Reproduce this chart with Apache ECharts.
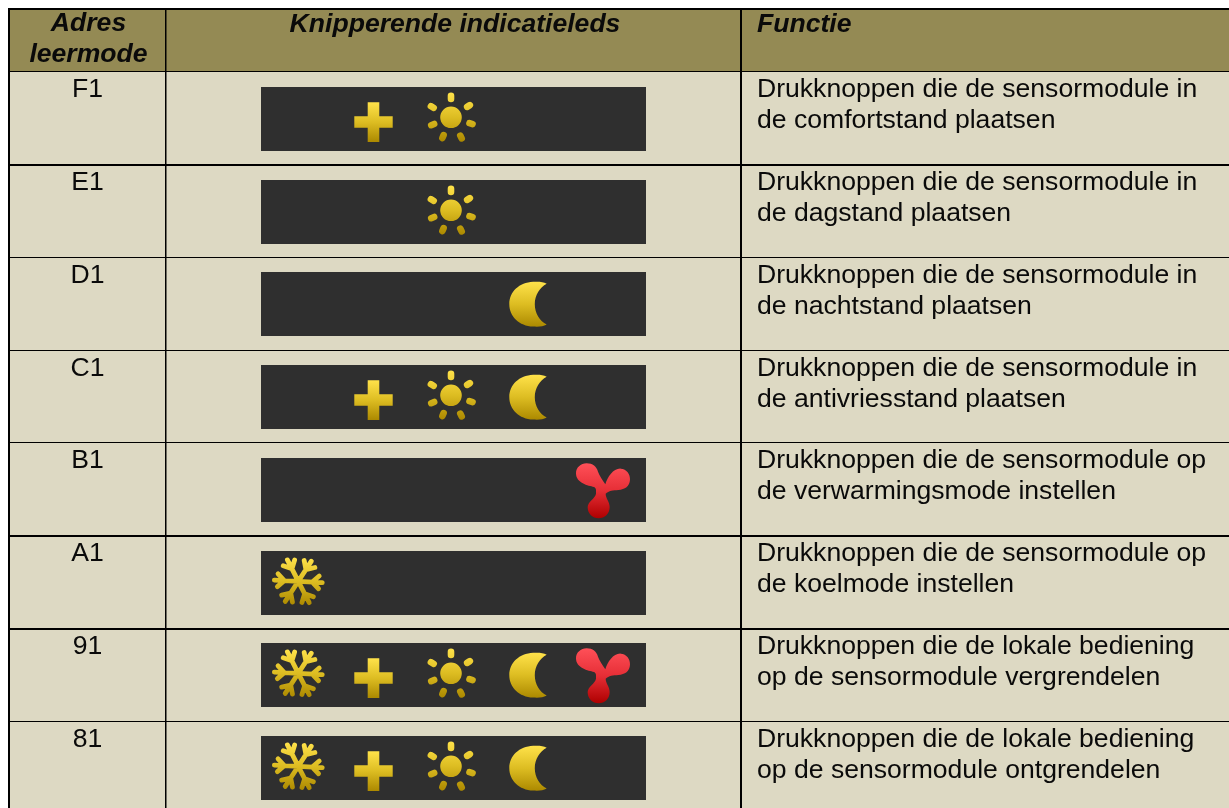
<!DOCTYPE html>
<html><head><meta charset="utf-8">
<style>html,body{margin:0;padding:0;background:#fff}#c{width:1229px;height:808px}</style>
<script src="https://cdn.jsdelivr.net/npm/echarts@6/dist/echarts.min.js"></script>
</head><body><div id="c"></div>
<script>
// ---- data ----
const headerLabels = ['Adres\nleermode', 'Knipperende indicatieleds', 'Functie'];
const addresses = ['F1', 'E1', 'D1', 'C1', 'B1', 'A1', '91', '81'];
const functions = [
  'Drukknoppen die de sensormodule in\nde comfortstand plaatsen',
  'Drukknoppen die de sensormodule in\nde dagstand plaatsen',
  'Drukknoppen die de sensormodule in\nde nachtstand plaatsen',
  'Drukknoppen die de sensormodule in\nde antivriesstand plaatsen',
  'Drukknoppen die de sensormodule op\nde verwarmingsmode instellen',
  'Drukknoppen die de sensormodule op\nde koelmode instellen',
  'Drukknoppen die de lokale bediening\nop de sensormodule vergrendelen',
  'Drukknoppen die de lokale bediening\nop de sensormodule ontgrendelen'
];
const ledSnow = [0, 0, 0, 0, 0, 1, 1, 1];
const ledPlus = [1, 0, 0, 1, 0, 0, 1, 1];
const ledSun  = [1, 1, 0, 1, 0, 0, 1, 1];
const ledMoon = [0, 0, 1, 1, 0, 0, 1, 1];
const ledFan  = [0, 0, 0, 0, 1, 0, 1, 0];

// ---- layout & style ----
const W = 1229, HEADER_BOTTOM = 71, ROW_H = 92.75;
const COL = { left: 8, a: 165, b: 740, aCenter: 87.5, bCenter: 455, textX: 757 };
const BAR = { x: 261, w: 385, h: 64, offset: 16 };
const HEADER_FILL = '#948A54', BODY_FILL = '#DDD9C3', BAR_FILL = '#2F2F2F', INK = '#0a0a0a';
const ruleWidths = [2, 1, 1, 1, 2, 2, 1];
const FONT = 'Liberation Sans, Arial, sans-serif';
const BODY_SIZE = 25, BODY_SCALE = 1.063, HEAD_SIZE = 25, HEAD_SCALE = 1.063;
const grad = stops => new echarts.graphic.LinearGradient(0, 0, 0, 1, stops.map((c, i) => ({ offset: i / (stops.length - 1), color: c })));
const gold = () => grad(['#FFE24A', '#DDBD22', '#AC8900']);
const red = () => grad(['#FF5058', '#E62E36', '#AE0000']);

function rowTop(api, i) {
  const c = api.coord([0, i])[1], h = api.size([0, 1])[1];
  return c - h / 2;
}
function barOrigin(api, i) {
  return [BAR.x, Math.floor(rowTop(api, i) + BAR.offset + 0.4)];
}
function txt(x, y, s, size, scale, align, extra) {
  return { type: 'text', x: x, y: y, scaleX: scale, silent: true,
    style: Object.assign({ text: s, fontFamily: FONT, fontSize: size, fill: INK, align: align, verticalAlign: 'middle' }, extra || {}) };
}
function rect(x, y, w, h, fill) {
  return { type: 'rect', shape: { x: x, y: y, width: w, height: h }, style: { fill: fill }, silent: true };
}
function iconEl(o, d, box, style) {
  return { type: 'path', silent: true,
    shape: { pathData: d, x: o[0] + box[0], y: o[1] + box[1], width: box[2], height: box[3], layout: 'cover' },
    style: style };
}

// ---- icon geometry ----
const PLUS_D = 'M13.4 0 H25 V14 H38.4 V25.4 H25 V39.7 H13.4 V25.4 H0 V14 H13.4 Z';
const PLUS_BOX = [93.3, 15.3, 38.4, 39.7];
const MOON_D = 'M141 44 C130 38 118 37 100 38 C58 40 28 68 28 105 C28 142 58 170 100 172 C118 173 130 172 141 166 C120 155 105 132 105 105 C105 78 120 55 141 44 Z';
const MOON_BOX = [248.3, 9.7, 37.4, 45];
const FAN_D = 'M1036 118 C1043 96 1060 70 1082 71 C1100 72 1111 88 1110 104 C1109 124 1095 133 1075 135 C1060 136 1046 137 1037 146 C1037 160 1049 170 1049 187 C1049 206 1034 220 1016 220 C998 220 983 206 983 187 C983 170 1006 160 1008 146 C1008 138 1010 130 1002 126 C985 122 948 115 948 85 C948 68 962 55 980 55 C998 55 1010 65 1014 80 C1018 92 1028 106 1036 118 Z';
const FAN_BOX = [315, 5.3, 54, 55];

const SUN_RAY_CENTERS = [[0, -20], [17.5, -11.3], [20, 6.3], [10, 19.7], [-8, 19.3], [-18.3, 7.3], [-18.7, -10.3]];
const SUN_R = 10.8, RAY_R = 3.3, RAY_HALF = 1.6;
const SUN_CENTER = [190, 30.3];
function capsule(x1, y1, x2, y2, r) {
  const a = Math.atan2(y2 - y1, x2 - x1), nx = -Math.sin(a) * r, ny = Math.cos(a) * r;
  return `M${x1 + nx} ${y1 + ny} A${r} ${r} 0 0 1 ${x1 - nx} ${y1 - ny} L${x2 - nx} ${y2 - ny} A${r} ${r} 0 0 1 ${x2 + nx} ${y2 + ny} Z `;
}
const SUN_RAYS = SUN_RAY_CENTERS.map(c => {
  const l = Math.hypot(c[0], c[1]), ux = c[0] / l, uy = c[1] / l;
  return [c[0] - ux * RAY_HALF, c[1] - uy * RAY_HALF, c[0] + ux * RAY_HALF, c[1] + uy * RAY_HALF];
});
const sunD = SUN_RAYS.map(r => capsule(r[0], r[1], r[2], r[3], RAY_R)).join('') +
  `M${SUN_R} 0 A${SUN_R} ${SUN_R} 0 1 1 ${-SUN_R} 0 A${SUN_R} ${SUN_R} 0 1 1 ${SUN_R} 0 Z`;
const sunBox = (() => {
  const xs = SUN_RAYS.flatMap(r => [r[0], r[2]]), ys = SUN_RAYS.flatMap(r => [r[1], r[3]]);
  const x0 = Math.min(...xs) - RAY_R, x1 = Math.max(...xs) + RAY_R, y0 = Math.min(...ys) - RAY_R, y1 = Math.max(...ys) + RAY_R;
  return [SUN_CENTER[0] + x0, SUN_CENTER[1] + y0, x1 - x0, y1 - y0];
})();

const SNOW_CENTER = [37.3, 30.3], SNOW_R = 24, SNOW_TILT = 3;
const snow = (() => {
  let d = '', pts = [];
  const seg = (x1, y1, x2, y2) => { d += `M${x1} ${y1} L${x2} ${y2} `; pts.push([x1, y1], [x2, y2]); };
  for (let k = 0; k < 6; k++) {
    const a = (k * 60 + SNOW_TILT) * Math.PI / 180;
    seg(0, 0, SNOW_R * Math.cos(a), SNOW_R * Math.sin(a));
    const bx = 14 * Math.cos(a), by = 14 * Math.sin(a);
    [-44, 44].forEach(o => {
      const b = a + o * Math.PI / 180;
      seg(bx, by, bx + 9.2 * Math.cos(b), by + 9.2 * Math.sin(b));
    });
  }
  const xs = pts.map(p => p[0]), ys = pts.map(p => p[1]);
  const x0 = Math.min(...xs), y0 = Math.min(...ys);
  return { d: d, box: [SNOW_CENTER[0] + x0, SNOW_CENTER[1] + y0, Math.max(...xs) - x0, Math.max(...ys) - y0] };
})();

// ---- renderers ----
function renderRow(params, api) {
  const i = api.value(1), top = rowTop(api, i), lineTop = i === 0 ? null : Math.floor(top + 0.75);
  const o = barOrigin(api, i);
  const lines = functions[i].split('\n');
  const kids = [
    rect(COL.left, top, W - COL.left, api.size([0, 1])[1] + 1, BODY_FILL),
    rect(o[0], o[1], BAR.w, BAR.h, BAR_FILL),
    txt(COL.aCenter, top + 19.6, addresses[i], BODY_SIZE, BODY_SCALE, 'center'),
    txt(COL.textX, top + 19.6, lines[0], BODY_SIZE, BODY_SCALE, 'left'),
    txt(COL.textX, top + 50.6, lines[1], BODY_SIZE, BODY_SCALE, 'left')
  ];
  if (lineTop !== null) kids.push(rect(COL.left, lineTop, W - COL.left, ruleWidths[i - 1], '#000'));
  return { type: 'group', children: kids };
}
function renderHeader(params, api) {
  const i = api.value(1);
  const kids = [];
  const style = { fontWeight: 'bold', fontStyle: 'italic' };
  if (i === 0) {
    kids.push(rect(COL.left, 8, W - COL.left, HEADER_BOTTOM - 8, HEADER_FILL));
    kids.push(rect(COL.left, 8, W - COL.left, 2, '#000'));
    kids.push(rect(COL.left, HEADER_BOTTOM, W - COL.left, 1, '#000'));
    const l = headerLabels[0].split('\n');
    kids.push(txt(COL.aCenter + 1, 24, l[0], HEAD_SIZE, HEAD_SCALE, 'center', style));
    kids.push(txt(COL.aCenter + 1, 55, l[1], HEAD_SIZE, HEAD_SCALE, 'center', style));
  } else if (i === 1) {
    kids.push(txt(COL.bCenter, 25, headerLabels[1], HEAD_SIZE, HEAD_SCALE, 'center', style));
  } else {
    kids.push(txt(COL.textX, 25, headerLabels[2], HEAD_SIZE, HEAD_SCALE, 'left', style));
  }
  return { type: 'group', children: kids };
}
function renderGrid() {
  return { type: 'group', children: [
    rect(COL.left, 8, 2, 808 - 8, '#000'),
    rect(COL.a, 8, 1.5, 808 - 8, '#000'),
    rect(COL.b, 8, 2, 808 - 8, '#000')
  ] };
}
const renderers = {
  snow: (p, api) => iconEl(barOrigin(api, api.value(1)), snow.d, snow.box,
    { fill: 'none', stroke: gold(), lineWidth: 4.8, lineCap: 'round', lineJoin: 'round' }),
  plus: (p, api) => iconEl(barOrigin(api, api.value(1)), PLUS_D, PLUS_BOX, { fill: gold() }),
  sun:  (p, api) => iconEl(barOrigin(api, api.value(1)), sunD, sunBox, { fill: gold() }),
  moon: (p, api) => iconEl(barOrigin(api, api.value(1)), MOON_D, MOON_BOX, { fill: gold() }),
  fan:  (p, api) => iconEl(barOrigin(api, api.value(1)), FAN_D, FAN_BOX, { fill: red() })
};
const ledSeries = (name, flags) => ({
  type: 'custom', name: name, renderItem: renderers[name], clip: false, silent: true, z: 5,
  encode: { x: 0, y: 1 },
  data: flags.map((f, i) => f ? [0, i] : null).filter(Boolean)
});

const chart = echarts.init(document.getElementById('c'), null, { renderer: 'canvas' });
chart.setOption({
  animation: false,
  backgroundColor: '#fff',
  grid: { left: 0, width: W, top: HEADER_BOTTOM, height: ROW_H * addresses.length, outerBoundsMode: 'none' },
  xAxis: { type: 'value', min: 0, max: W, show: false },
  yAxis: { type: 'category', data: addresses, inverse: true, show: false },
  series: [
    { type: 'custom', name: 'rows', renderItem: renderRow, clip: false, silent: true, z: 1,
      encode: { x: 0, y: 1 }, data: addresses.map((a, i) => [0, i]) },
    { type: 'custom', name: 'header', renderItem: renderHeader, clip: false, silent: true, z: 2,
      encode: { x: 0, y: 1 }, data: headerLabels.map((h, i) => [0, i]) },
    { type: 'custom', name: 'gridlines', renderItem: renderGrid, clip: false, silent: true, z: 3,
      encode: { x: 0, y: 1 }, data: [[0, 0]] },
    ledSeries('snow', ledSnow), ledSeries('plus', ledPlus), ledSeries('sun', ledSun),
    ledSeries('moon', ledMoon), ledSeries('fan', ledFan)
  ]
});
</script></body></html>
